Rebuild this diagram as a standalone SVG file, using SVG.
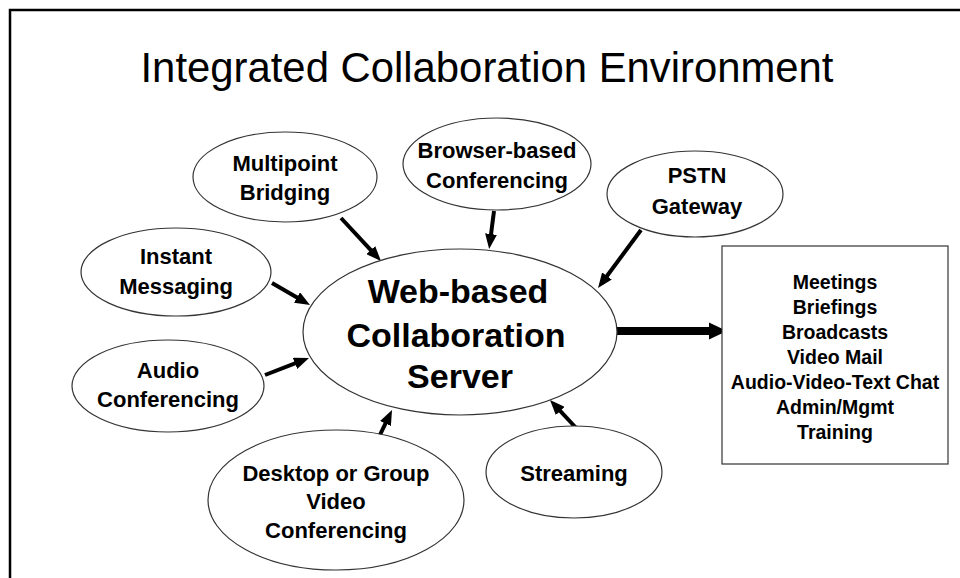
<svg xmlns="http://www.w3.org/2000/svg" width="960" height="578" viewBox="0 0 960 578">
<style>
.node ellipse,.node rect{fill:#fff;stroke:#333;stroke-width:1.2}
.lbl{font-family:"Liberation Sans",Arial,sans-serif;font-weight:bold;font-size:22px;text-anchor:middle;fill:#000}
.big{font-size:34px}
.box{font-size:19.5px}
.conn line{stroke:#000;stroke-width:4}
</style>
<defs>
<marker id="ah" markerUnits="userSpaceOnUse" markerWidth="15" markerHeight="12" refX="9" refY="6" orient="auto">
<path d="M0,0 L15,6 L0,12 z" fill="#000"/>
</marker>
</defs>
<rect x="0" y="0" width="960" height="578" fill="#fff"/>
<path d="M10,578 V10 H960" fill="none" stroke="#000" stroke-width="2.5"/>
<text x="487" y="82" font-family="Liberation Sans,Arial,sans-serif" font-size="43" text-anchor="middle" textLength="693" lengthAdjust="spacingAndGlyphs">Integrated Collaboration Environment</text>

<g class="conn" id="connectors">
<line x1="341" y1="218" x2="376.9" y2="256.7" marker-end="url(#ah)"/>
<line x1="494" y1="211" x2="489.9" y2="243" marker-end="url(#ah)"/>
<line x1="641" y1="230" x2="601.6" y2="283.2" marker-end="url(#ah)"/>
<line x1="272" y1="283" x2="304.8" y2="302" marker-end="url(#ah)"/>
<line x1="265" y1="375" x2="303.4" y2="360.2" marker-end="url(#ah)"/>
<line x1="377" y1="441" x2="389.4" y2="415.4" marker-end="url(#ah)"/>
<line x1="578" y1="430" x2="554.1" y2="404.4" marker-end="url(#ah)"/>
<path d="M617,327 H709 V322.5 L727,331 L709,339.5 V335 H617 z" fill="#000"/>
</g>

<g class="node" id="multipoint">
<ellipse cx="285" cy="177" rx="92" ry="45"/>
<text class="lbl" x="285" y="171">Multipoint</text>
<text class="lbl" x="285" y="200">Bridging</text>
</g>
<g class="node" id="browser">
<ellipse cx="497" cy="164" rx="94" ry="46"/>
<text class="lbl" x="497" y="158">Browser-based</text>
<text class="lbl" x="497" y="188">Conferencing</text>
</g>
<g class="node" id="pstn">
<ellipse cx="695" cy="194" rx="88" ry="43"/>
<text class="lbl" x="697" y="183">PSTN</text>
<text class="lbl" x="697" y="214">Gateway</text>
</g>
<g class="node" id="instant">
<ellipse cx="176" cy="272" rx="95" ry="44"/>
<text class="lbl" x="176" y="264">Instant</text>
<text class="lbl" x="176" y="294">Messaging</text>
</g>
<g class="node" id="audio">
<ellipse cx="168" cy="386" rx="96" ry="46"/>
<text class="lbl" x="168" y="378">Audio</text>
<text class="lbl" x="168" y="407">Conferencing</text>
</g>
<g class="node" id="server">
<ellipse cx="460" cy="332" rx="157" ry="83"/>
<text class="lbl big" x="458" y="303">Web-based</text>
<text class="lbl big" x="456" y="347">Collaboration</text>
<text class="lbl big" x="460" y="388">Server</text>
</g>
<g class="node" id="desktop">
<ellipse cx="336" cy="500" rx="128" ry="70"/>
<text class="lbl" x="336" y="481">Desktop or Group</text>
<text class="lbl" x="336" y="509">Video</text>
<text class="lbl" x="336" y="538">Conferencing</text>
</g>
<g class="node" id="streaming">
<ellipse cx="574" cy="472" rx="88" ry="46"/>
<text class="lbl" x="574" y="481">Streaming</text>
</g>
<g class="node" id="services">
<rect x="722" y="246" width="226" height="218"/>
<text class="lbl box" x="835" y="289">Meetings</text>
<text class="lbl box" x="835" y="314">Briefings</text>
<text class="lbl box" x="835" y="339">Broadcasts</text>
<text class="lbl box" x="835" y="364">Video Mail</text>
<text class="lbl box" x="835" y="389">Audio-Video-Text Chat</text>
<text class="lbl box" x="835" y="414">Admin/Mgmt</text>
<text class="lbl box" x="835" y="439">Training</text>
</g>
</svg>
